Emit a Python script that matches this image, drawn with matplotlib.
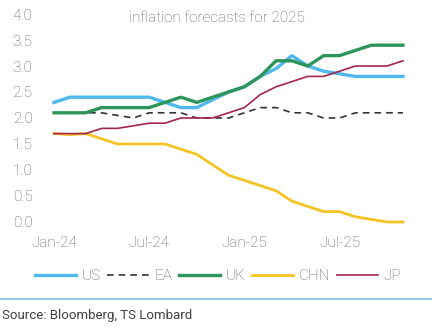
import matplotlib
matplotlib.use("Agg")
import matplotlib.pyplot as plt
from matplotlib.lines import Line2D

plt.rcParams['font.family'] = ['Roboto', 'DejaVu Sans']
plt.rcParams['font.weight'] = 'light'

months = ["Jan-24", "Feb-24", "Mar-24", "Apr-24", "May-24", "Jun-24", "Jul-24", "Aug-24",
          "Sep-24", "Oct-24", "Nov-24", "Dec-24", "Jan-25", "Feb-25", "Mar-25", "Apr-25",
          "May-25", "Jun-25", "Jul-25", "Aug-25", "Sep-25", "Oct-25", "Nov-25"]
us = [2.3, 2.4, 2.4, 2.4, 2.4, 2.4, 2.4, 2.3, 2.2, 2.2, 2.35, 2.5, 2.6, 2.8, 2.95, 3.2,
      3.0, 2.9, 2.85, 2.8, 2.8, 2.8, 2.8]
ea = [2.1, 2.1, 2.1, 2.1, 2.05, 2.0, 2.1, 2.1, 2.1, 2.0, 2.0, 2.0, 2.1, 2.2, 2.2, 2.1,
      2.1, 2.0, 2.0, 2.1, 2.1, 2.1, 2.1]
uk = [2.1, 2.1, 2.1, 2.2, 2.2, 2.2, 2.2, 2.3, 2.4, 2.3, 2.4, 2.5, 2.6, 2.8, 3.1, 3.1,
      3.0, 3.2, 3.2, 3.3, 3.4, 3.4, 3.4]
chn = [1.7, 1.68, 1.7, 1.6, 1.5, 1.5, 1.5, 1.5, 1.4, 1.3, 1.1, 0.9, 0.8, 0.7, 0.6, 0.4,
       0.3, 0.2, 0.2, 0.1, 0.05, 0.0, 0.0]
jp = [1.7, 1.7, 1.7, 1.8, 1.8, 1.85, 1.9, 1.9, 2.0, 2.0, 2.0, 2.1, 2.2, 2.45, 2.6, 2.7,
      2.8, 2.8, 2.9, 3.0, 3.0, 3.0, 3.1]
xtick_labels = ["Jan-24", "Jul-24", "Jan-25", "Jul-25"]
yticks = [0.0, 0.5, 1.0, 1.5, 2.0, 2.5, 3.0, 3.5, 4.0]

W, H = 432, 333
fig = plt.figure(figsize=(W / 100, H / 100), dpi=100)
ax = fig.add_axes([45 / W, 1 - 230 / H, 367 / W, 220 / H])

x = list(range(len(months)))
c_us, c_uk, c_chn, c_jp = "#4fb8ec", "#2e955a", "#f3c423", "#a3264b"
ax.plot(x, us, color=c_us, lw=2.4, label="US", solid_joinstyle='round')
ax.plot(x, ea, color="#333333", lw=1.2, ls=(0, (4, 3)), label="EA")
ax.plot(x, uk, color=c_uk, lw=2.4, label="UK", solid_joinstyle='round')
ax.plot(x, chn, color=c_chn, lw=2.0, label="CHN", solid_joinstyle='round')
ax.plot(x, jp, color=c_jp, lw=1.2, label="JP")

ax.set_xlim(-0.57, 22.57)
ax.set_ylim(-0.154, 4.077)
ax.set_xticks([months.index(m) for m in xtick_labels])
ax.set_xticklabels(xtick_labels)
ax.set_yticks(yticks)
ax.set_yticklabels([f"{v:.1f}" for v in yticks])
for s in ax.spines.values():
    s.set_visible(False)
ax.tick_params(length=0, labelsize=11, colors="#606060", pad=4)
ax.tick_params(axis='y', pad=9)

fig.text(217 / W, 1 - 18 / H, "inflation forecasts for 2025", fontsize=11,
         color="#606060", ha='center', va='center')

handles, labels = ax.get_legend_handles_labels()
fig.legend(handles, labels, loc='center', bbox_to_anchor=(218 / W, 1 - 276 / H), ncol=5,
           frameon=False, fontsize=11, handlelength=2.7, handletextpad=0.35,
           columnspacing=0.45, labelcolor="#606060")

fig.add_artist(Line2D([0, 1], [1 - 299 / H, 1 - 299 / H], transform=fig.transFigure,
                      color="#7cc4ea", lw=1.2))
fig.text(2 / W, 1 - 315 / H, "Source: Bloomberg, TS Lombard", fontsize=9.5,
         fontweight='normal', color="#404040", va='center', ha='left')

fig.savefig("out.png", dpi=100)
